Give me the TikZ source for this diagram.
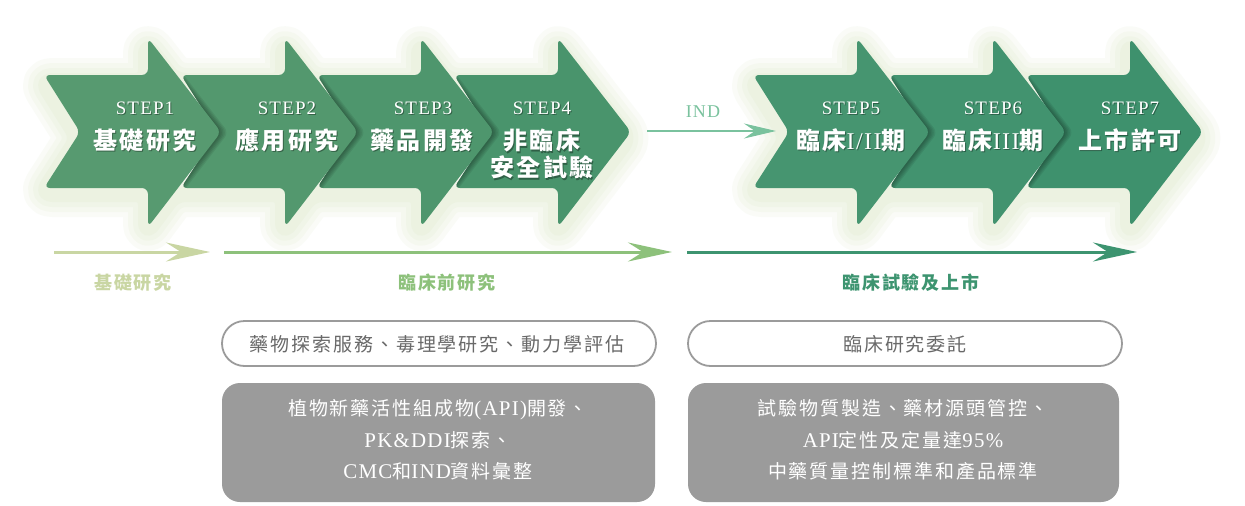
\documentclass[tikz,border=0pt]{standalone}
\usepackage{fontspec}
\newfontfamily\cjk[LetterSpace=10]{Noto Sans CJK TC}
\newfontfamily\lat[LetterSpace=6]{Liberation Serif}
\newfontfamily\latw[LetterSpace=6,Scale=1.1]{Liberation Serif}
\usetikzlibrary{arrows.meta}
\definecolor{cA}{RGB}{87,154,112}
\definecolor{cB}{RGB}{83,152,110}
\definecolor{cC}{RGB}{78,150,109}
\definecolor{cD}{RGB}{73,148,108}
\definecolor{cE}{RGB}{70,149,112}
\definecolor{cF}{RGB}{66,147,111}
\definecolor{cG}{RGB}{62,145,109}
\definecolor{glowc}{RGB}{190,214,150}
\definecolor{arrA}{RGB}{201,214,163}
\definecolor{arrB}{RGB}{141,193,123}
\definecolor{arrC}{RGB}{61,148,112}
\definecolor{indc}{RGB}{122,194,158}
\definecolor{boxline}{RGB}{155,155,155}
\definecolor{boxtxt}{RGB}{105,105,105}
\definecolor{boxfill}{RGB}{155,155,155}

\newcommand\chevpath[1]{(#1-104,75) -- (#1-68,132) -- (#1-104,188) -- (#1,188) -- (#1,227) -- (#1+73,132) -- (#1,38) -- (#1,75) -- cycle}
\newcommand\unionA{(44,75) -- (148,75) -- (148,38) -- (177,75) -- (285,75) -- (285,38) -- (314,75) -- (421,75) -- (421,38) -- (450,75) -- (558,75) -- (558,38) -- (631,132) -- (558,227) -- (558,188) -- (450,188) -- (421,227) -- (421,188) -- (314,188) -- (285,227) -- (285,188) -- (177,188) -- (148,227) -- (148,188) -- (44,188) -- (80,132) -- cycle}
\newcommand\unionB{(753,75) -- (857,75) -- (857,38) -- (886,75) -- (993,75) -- (993,38) -- (1022,75) -- (1130,75) -- (1130,38) -- (1203,132) -- (1130,227) -- (1130,188) -- (1022,188) -- (993,227) -- (993,188) -- (886,188) -- (857,227) -- (857,188) -- (753,188) -- (789,132) -- cycle}
\newcommand\chevshadow[2]{%
  \begin{scope}
    \clip[rounded corners=6] \chevpath{#2};
    \foreach \s in {1.5,3,4.5,6,7.5}{
      \fill[black,opacity=0.07,rounded corners=6,xshift=\s pt,yshift=-0.6pt] \chevpath{#1};
    }
  \end{scope}}
\newcommand\shnode[5]{%
  \node[#1,text=black,opacity=0.35] (#2sh) at (#3+1,#4+1.5) {#5};
  \node[#1] (#2) at (#3,#4) {#5};}

\tikzset{
  chev/.style={rounded corners=6},
  steplbl/.style={text=white,inner sep=0pt,font=\lat\fontsize{19}{20}\selectfont},
  steptitle/.style={text=white,inner sep=0pt,align=center,font=\cjk\bfseries\fontsize{24}{27}\selectfont},
  phaselbl/.style={inner sep=0pt,font=\cjk\bfseries\fontsize{18}{20}\selectfont},
  phasearrow/.style={line width=3pt,-{Stealth[length=44pt,width=19pt,inset=15pt]}},
  pill/.style={draw=boxline,line width=1.8pt,rounded corners=22.5pt,fill=white},
  pilltxt/.style={text=boxtxt,inner sep=0pt,font=\cjk\fontsize{19}{22}\selectfont},
  graybox/.style={fill=boxfill,rounded corners=18pt},
  graytxt/.style={text=white,inner sep=0pt,align=center,font=\cjk\fontsize{19}{31.5}\selectfont},
}

\begin{document}
\begin{tikzpicture}[x=1pt,y=-1pt]
\useasboundingbox (0,0) rectangle (1245,506);
\fill[white] (0,0) rectangle (1245,506);

% glow behind the chevron groups
\foreach \w in {46,36,26,16}{
  \draw[glowc,opacity=0.075,line width=\w pt,line join=round,rounded corners=10,yshift=-6pt,xshift=-2pt] \unionA;
  \draw[glowc,opacity=0.075,line width=\w pt,line join=round,rounded corners=10,yshift=-6pt,xshift=-2pt] \unionB;
}

% group A chevrons (right to left so left ones lie on top)
\fill[cD,chev] \chevpath{558};
\chevshadow{421}{558}
\fill[cC,chev] \chevpath{421};
\chevshadow{285}{421}
\fill[cB,chev] \chevpath{285};
\chevshadow{148}{285}
\fill[cA,chev] \chevpath{148};

% group B chevrons
\fill[cG,chev] \chevpath{1130};
\chevshadow{993}{1130}
\fill[cF,chev] \chevpath{993};
\chevshadow{857}{993}
\fill[cE,chev] \chevpath{857};

% step labels
\shnode{steplbl}{st1}{145}{108}{STEP1}
\shnode{steptitle}{t1}{145}{140}{基礎研究}
\shnode{steplbl}{st2}{287}{108}{STEP2}
\shnode{steptitle}{t2}{287}{140}{應用研究}
\shnode{steplbl}{st3}{423}{108}{STEP3}
\shnode{steptitle}{t3}{422}{140}{藥品開發}
\shnode{steplbl}{st4}{542}{108}{STEP4}
\shnode{steptitle}{t4}{542}{154}{非臨床\\安全試驗}
\shnode{steplbl}{st5}{851}{108}{STEP5}
\shnode{steptitle}{t5}{851}{140}{臨床{\lat\mdseries I/II}期}
\shnode{steplbl}{st6}{993}{108}{STEP6}
\shnode{steptitle}{t6}{993}{140}{臨床{\lat\mdseries III}期}
\shnode{steplbl}{st7}{1130}{108}{STEP7}
\shnode{steptitle}{t7}{1130}{140}{上市許可}

% IND arrow
\node[text=indc,inner sep=0pt,font=\lat\fontsize{18}{20}\selectfont] (ind) at (703,112) {IND};
\coordinate (indS) at (647,131);
\coordinate (indE) at (776,131);
\draw[indc,line width=2pt,-{Stealth[length=32pt,width=15pt,inset=11pt]}] (indS) -- (indE);

% phase arrows
\coordinate (p1s) at (54,252);  \coordinate (p1e) at (210,252);
\coordinate (p2s) at (224,252); \coordinate (p2e) at (672,252);
\coordinate (p3s) at (687,252); \coordinate (p3e) at (1137,252);
\draw[phasearrow,arrA] (p1s) -- (p1e);
\draw[phasearrow,arrB] (p2s) -- (p2e);
\draw[phasearrow,arrC] (p3s) -- (p3e);
\node[phaselbl,text=arrA] (l1) at (133,283) {基礎研究};
\node[phaselbl,text=arrB] (l2) at (447,283) {臨床前研究};
\node[phaselbl,text=arrC] (l3) at (911,283) {臨床試驗及上市};

% pill boxes
\draw[pill] (222,321) rectangle (656,366);
\node[pilltxt] (pt1) at (437,344) {藥物探索服務、毒理學研究、動力學評估};
\draw[pill] (688,321) rectangle (1122,366);
\node[pilltxt] (pt2) at (905,344) {臨床研究委託};

% gray boxes
\fill[graybox] (222,383) rectangle (655,502);
\node[graytxt] (g1) at (438,440) {植物新藥活性組成物{\latw(API)}開發、\\{\latw PK\&DDI}探索、\\{\latw CMC}和{\latw IND}資料彙整};
\fill[graybox] (688,383) rectangle (1119,502);
\node[graytxt] (g2) at (903,440) {試驗物質製造、藥材源頭管控、\\{\latw API}定性及定量達{\latw 95\%}\\中藥質量控制標準和產品標準};
\end{tikzpicture}
\end{document}
